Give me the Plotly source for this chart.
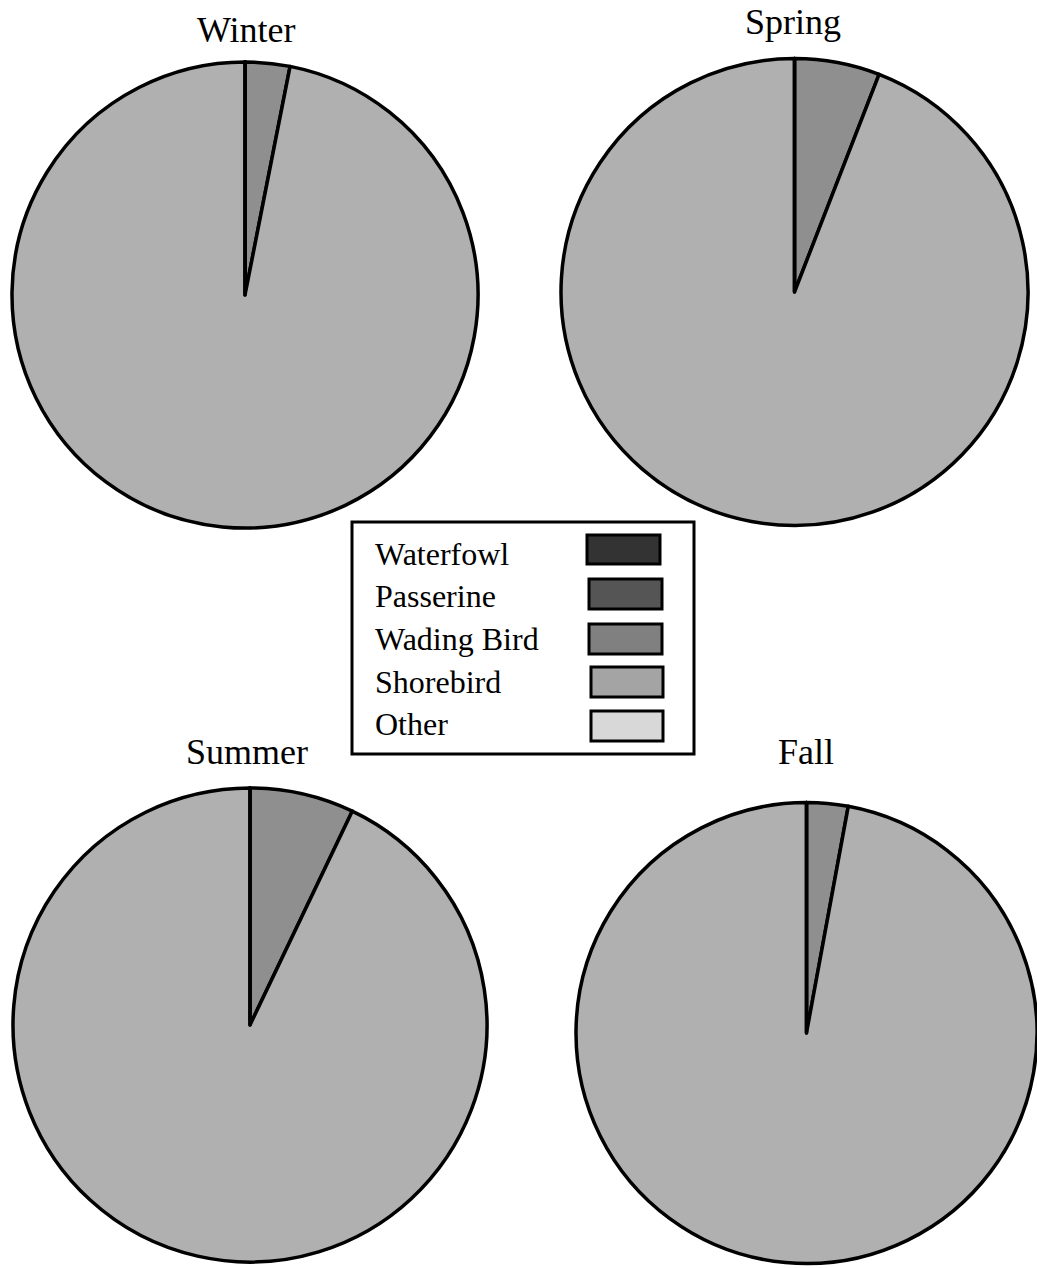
import plotly.graph_objects as go

# Bird group share (%) by season
categories = ["Waterfowl", "Passerine", "Wading Bird", "Shorebird", "Other"]
seasons = ["Winter", "Spring", "Summer", "Fall"]
winter = [0, 0, 3.1, 96.9, 0]
spring = [0, 0, 5.9, 94.1, 0]
summer = [0, 0, 7.1, 92.9, 0]
fall = [0, 0, 2.9, 97.1, 0]

slice_colors = ["#333333", "#555555", "#8f8f8f", "#b0b0b0", "#d8d8d8"]
swatch_colors = ["#333333", "#555555", "#808080", "#a4a4a4", "#d8d8d8"]

W, H = 1037, 1268
FONT = "Liberation Serif, Times New Roman, serif"


def px_x(x):
    return x / W


def px_y(y):
    return 1 - y / H


# pixel boxes (left, top, right, bottom) for each pie
boxes = {
    "Winter": (12, 62, 478, 528),
    "Spring": (561, 57, 1028, 527),
    "Summer": (12, 788, 488, 1262),
    "Fall": (576, 798, 1037, 1268),
}
series = {"Winter": winter, "Spring": spring, "Summer": summer, "Fall": fall}

fig = go.Figure()
for s in seasons:
    l, t, r, b = boxes[s]
    fig.add_trace(go.Pie(
        labels=categories,
        values=series[s],
        sort=False,
        direction="clockwise",
        rotation=0,
        textinfo="none",
        hoverinfo="label+percent",
        showlegend=False,
        marker=dict(colors=slice_colors, line=dict(color="black", width=3.5)),
        domain=dict(x=[px_x(l), min(px_x(r), 1)], y=[px_y(b), px_y(t)]),
        name=s,
    ))

annotations = []
# season titles (x centre, baseline)
title_pos = {"Winter": (246, 42), "Spring": (793, 34), "Summer": (247, 764), "Fall": (806, 764)}
TS = 36
for s, (cx, base) in title_pos.items():
    annotations.append(dict(
        text=s, x=px_x(cx), y=px_y(base - 0.33 * TS), xref="paper", yref="paper",
        xanchor="center", yanchor="middle", showarrow=False,
        font=dict(family=FONT, size=TS, color="black"),
    ))

# legend box with labels on the left and swatches on the right
shapes = [dict(type="rect", xref="paper", yref="paper",
               x0=px_x(352), x1=px_x(694), y0=px_y(754), y1=px_y(522),
               line=dict(color="black", width=3), fillcolor="white", layer="below")]
baselines = [565, 607, 650, 693, 735]
swatches = [(587, 535, 660, 564), (589, 579, 662, 609), (589, 624, 662, 654),
            (591, 667, 663, 697), (591, 711, 663, 741)]
LS = 32
for cat, base, col, (sl, st, sr, sb) in zip(categories, baselines, swatch_colors, swatches):
    annotations.append(dict(
        text=cat, x=px_x(373), y=px_y(base - 0.33 * LS), xref="paper", yref="paper",
        xanchor="left", yanchor="middle", showarrow=False,
        font=dict(family=FONT, size=LS, color="black"),
    ))
    shapes.append(dict(type="rect", xref="paper", yref="paper",
                       x0=px_x(sl), x1=px_x(sr), y0=px_y(sb), y1=px_y(st),
                       line=dict(color="black", width=3), fillcolor=col))

fig.update_layout(
    width=W, height=H,
    margin=dict(l=0, r=0, t=0, b=0),
    paper_bgcolor="white", plot_bgcolor="white",
    annotations=annotations, shapes=shapes,
    showlegend=False,
)

fig.write_html("out.html")
